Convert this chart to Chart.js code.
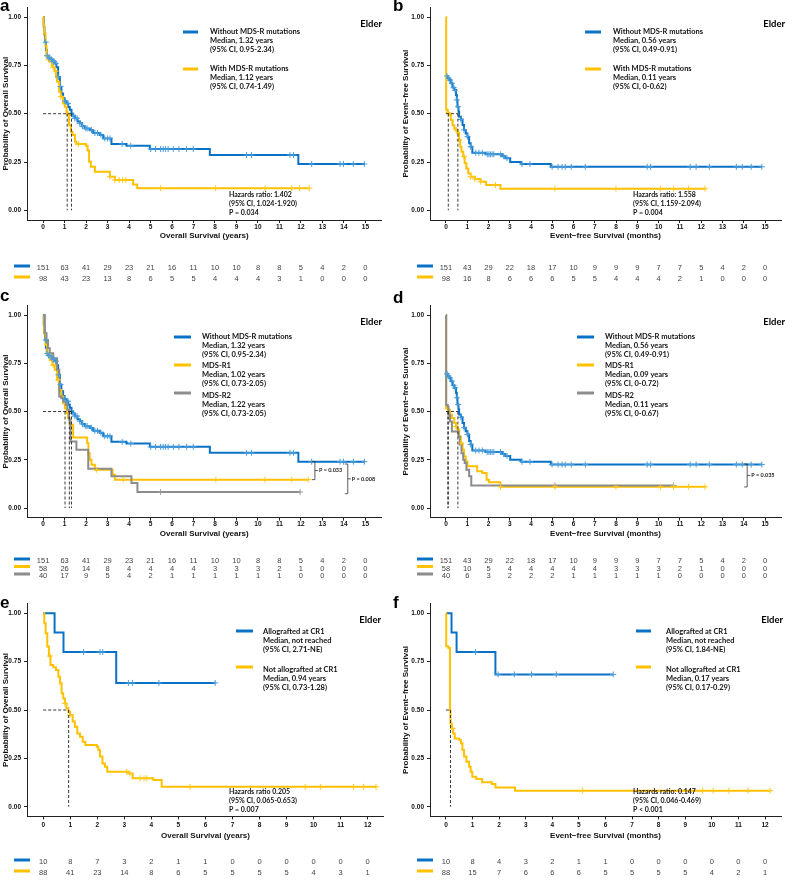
<!DOCTYPE html>
<html><head><meta charset="utf-8">
<script src="https://cdn.jsdelivr.net/npm/chart.js@4/dist/chart.umd.min.js"></script>
<style>
html,body{margin:0;padding:0;background:#fff;}
body{width:786px;height:881px;position:relative;overflow:hidden;}
canvas{position:absolute;}
</style></head><body>
<canvas id="ca" width="393" height="290" style="left:0;top:0"></canvas>
<canvas id="cb" width="393" height="290" style="left:393px;top:0"></canvas>
<canvas id="cc" width="393" height="290" style="left:0;top:290px"></canvas>
<canvas id="cd" width="393" height="290" style="left:393px;top:290px"></canvas>
<canvas id="ce" width="393" height="301" style="left:0;top:580px"></canvas>
<canvas id="cf" width="393" height="301" style="left:393px;top:580px"></canvas>
<script>
// ---------- tick labels ----------
const xTicks15 = [0,1,2,3,4,5,6,7,8,9,10,11,12,13,14,15];
const xTicks12 = [0,1,2,3,4,5,6,7,8,9,10,11,12];
const yTicks = [0, 0.25, 0.5, 0.75, 1];

// ---------- OS, without MDS-R (panels a, c) ----------
const osWithoutT = [0,0.03,0.06,0.09,0.13,0.17,0.25,0.35,0.45,0.55,0.62,0.70,0.78,0.85,0.93,1.0,1.09,1.17,1.24,1.32,1.4,1.48,1.6,1.71,1.82,1.94,2.17,2.33,2.64,2.8,3.18,3.88,4.97,7.76,11.88,14.98];
const osWithoutS = [1.0,0.95,0.91,0.87,0.83,0.80,0.79,0.78,0.77,0.76,0.74,0.69,0.64,0.605,0.58,0.565,0.553,0.535,0.52,0.50,0.49,0.476,0.46,0.45,0.435,0.424,0.415,0.40,0.39,0.372,0.343,0.334,0.317,0.286,0.24,0.24];
const osWithoutC = [0.12,0.19,0.26,0.31,0.39,0.47,0.51,0.59,0.71,0.81,1.01,1.16,1.40,1.48,1.58,1.71,1.83,1.99,2.05,2.25,2.41,2.53,2.69,2.87,3.0,3.11,3.68,4.08,5.01,5.23,5.47,5.59,5.70,5.82,6.06,6.32,6.68,6.99,9.47,9.70,11.49,11.65,12.50,13.82,13.98,14.44,14.95];
// ---------- OS, with MDS-R (panel a) ----------
const osWithT = [0,0.02,0.05,0.11,0.16,0.23,0.31,0.4,0.47,0.54,0.6,0.65,0.75,0.82,0.93,1.01,1.09,1.13,1.21,1.29,1.37,1.48,1.55,1.99,2.07,2.14,2.22,2.41,3.11,3.34,4.19,4.38,12.39];
const osWithS = [1.0,0.96,0.915,0.85,0.80,0.78,0.77,0.75,0.74,0.72,0.69,0.665,0.614,0.588,0.553,0.536,0.51,0.493,0.44,0.407,0.39,0.355,0.343,0.334,0.31,0.252,0.226,0.2,0.174,0.157,0.134,0.114,0.114];
const osWithC = [0.19,0.26,0.47,0.59,0.82,1.2,1.65,3.11,3.34,3.54,3.70,3.85,5.47,8.03,10.33,11.57,11.93,12.39];
// ---------- EFS, without MDS-R (panels b, d) ----------
const efsWithoutT = [0,0.08,0.16,0.23,0.31,0.39,0.47,0.51,0.54,0.59,0.62,0.70,0.78,0.85,0.93,1.01,1.09,1.16,1.24,1.86,2.64,2.79,3.02,3.54,4.93,14.85];
const efsWithoutS = [0.695,0.683,0.674,0.657,0.636,0.622,0.597,0.571,0.536,0.51,0.484,0.47,0.441,0.416,0.398,0.381,0.347,0.329,0.298,0.29,0.28,0.27,0.25,0.24,0.225,0.225];
const efsWithoutC = [0.05,0.12,0.19,0.28,0.36,0.43,0.51,0.57,0.7,0.85,1.01,1.16,1.40,1.55,1.71,1.94,2.02,2.09,2.17,2.25,2.56,2.71,2.87,3.57,3.95,4.99,5.27,5.46,5.61,5.89,6.55,9.46,9.62,11.48,11.76,12.38,13.65,13.93,14.35,14.85];
// ---------- EFS, with MDS-R (panel b) ----------
const efsWithT = [0,0.01,0.08,0.16,0.23,0.31,0.39,0.47,0.54,0.62,0.67,0.73,0.81,0.88,0.96,1.05,1.16,1.36,1.63,1.89,2.56,12.18];
const efsWithS = [1.0,0.52,0.505,0.493,0.467,0.44,0.424,0.416,0.40,0.364,0.329,0.303,0.278,0.243,0.217,0.19,0.174,0.162,0.148,0.131,0.112,0.112];
const efsWithC = [0.12,0.47,0.62,0.85,1.16,1.36,1.63,2.33,5.12,7.99,10.08,10.70,11.4,12.18];
// ---------- OS MDS-R1 / MDS-R2 (panel c) ----------
const osR1T = [0,0.05,0.11,0.19,0.31,0.43,0.54,0.65,0.75,0.85,0.93,1.02,1.09,1.16,1.24,1.40,2.05,2.11,2.17,2.25,2.41,3.23,3.34,12.34];
const osR1S = [1.0,0.905,0.845,0.80,0.767,0.741,0.716,0.664,0.612,0.578,0.543,0.517,0.491,0.466,0.431,0.365,0.336,0.284,0.25,0.224,0.198,0.172,0.147,0.147];
const osR1C = [0.23,0.47,0.70,2.48,3.73,8.04,10.33,11.57,12.34];
const osR2T = [0,0.05,0.08,0.16,0.23,0.31,0.47,0.65,0.75,0.85,0.93,1.06,1.13,1.21,1.27,1.55,2.10,3.18,4.11,4.39,11.96];
const osR2S = [1.0,1.0,0.905,0.871,0.828,0.802,0.776,0.716,0.578,0.569,0.552,0.534,0.509,0.457,0.345,0.302,0.203,0.164,0.129,0.083,0.083];
const osR2C = [5.47,11.96];
// ---------- EFS MDS-R1 / MDS-R2 (panel d) ----------
const efsR1T = [0,0.01,0.08,0.19,0.28,0.39,0.47,0.54,0.62,0.70,0.78,0.85,0.93,1.01,1.47,1.71,1.91,2.02,2.56,12.18];
const efsR1S = [1.0,0.517,0.509,0.483,0.466,0.44,0.422,0.405,0.371,0.336,0.302,0.267,0.241,0.216,0.19,0.181,0.147,0.133,0.11,0.11];
const efsR1C = [0.47,0.70,2.56,5.12,7.99,10.08,10.7,11.4,12.18];
const efsR2T = [0,0.01,0.08,0.12,0.19,0.28,0.59,0.65,0.73,0.81,0.88,0.96,1.09,1.19,10.7];
const efsR2S = [1.0,0.534,0.526,0.483,0.448,0.397,0.371,0.328,0.284,0.25,0.233,0.198,0.164,0.117,0.117];
const efsR2C = [5.12,10.7];
// ---------- allografted (panels e, f) ----------
const osAlloT = [0,0.42,0.75,2.7,6.36];
const osAlloS = [1.0,0.9,0.8,0.64,0.64];
const osAlloC = [1.49,2.10,2.20,3.15,3.30,4.28,6.36];
const osNoAlloT = [0,0.04,0.09,0.15,0.21,0.27,0.37,0.47,0.56,0.62,0.68,0.74,0.80,0.86,0.93,0.99,1.09,1.17,1.26,1.36,1.46,1.56,1.98,2.04,2.10,2.19,2.28,2.37,3.15,3.31,4.07,4.38,12.31];
const osNoAlloS = [1.0,0.948,0.897,0.828,0.779,0.733,0.721,0.707,0.672,0.638,0.586,0.56,0.534,0.509,0.491,0.474,0.44,0.414,0.379,0.362,0.336,0.319,0.31,0.293,0.259,0.224,0.207,0.181,0.172,0.147,0.138,0.103,0.103];
const osNoAlloC = [0.25,0.80,0.99,3.09,3.21,3.58,3.73,3.83,5.43,9.69,10.25,11.48,11.85,12.31];
const efsAlloT = [0,0.21,0.40,1.86,6.29];
const efsAlloS = [1.0,0.9,0.8,0.684,0.684];
const efsAlloC = [1.11,1.96,2.57,3.22,4.15,6.29];
const efsNoAlloT = [0,0.01,0.09,0.15,0.17,0.22,0.27,0.33,0.5,0.56,0.62,0.68,0.77,0.87,0.93,0.99,1.14,1.36,1.73,1.86,2.6,12.19];
const efsNoAlloS = [1.0,0.83,0.82,0.50,0.43,0.405,0.379,0.353,0.345,0.328,0.293,0.259,0.233,0.207,0.181,0.155,0.143,0.126,0.117,0.10,0.083,0.083];
const efsNoAlloC = [0.25,5.14,9.65,10.05,10.64,11.36,12.19];

// ---------- medians ----------
const medA = [1.32, 1.12];
const medB = [0.56, 0.11];
const medC = [1.32, 1.02, 1.22];
const medD = [0.56, 0.09, 0.11];
const medE = [0.94];
const medF = [0.17];

// ---------- numbers at risk ----------
const riskOsWithout = [151,63,41,29,23,21,16,11,10,10,8,8,5,4,2,0];
const riskOsWith = [98,43,23,13,8,6,5,5,4,4,4,3,1,0,0,0];
const riskEfsWithout = [151,43,29,22,18,17,10,9,9,9,7,7,5,4,2,0];
const riskEfsWith = [98,16,8,6,6,6,5,5,4,4,4,2,1,0,0,0];
const riskOsR1 = [58,26,14,8,4,4,4,4,3,3,3,2,1,0,0,0];
const riskOsR2 = [40,17,9,5,4,2,1,1,1,1,1,1,0,0,0,0];
const riskEfsR1 = [58,10,5,4,4,4,4,4,3,3,3,2,1,0,0,0];
const riskEfsR2 = [40,6,3,2,2,2,1,1,1,1,1,0,0,0,0,0];
const riskOsAllo = [10,8,7,3,2,1,1,0,0,0,0,0,0];
const riskOsNoAllo = [88,41,23,14,8,6,5,5,5,5,4,3,1];
const riskEfsAllo = [10,8,4,3,2,1,1,0,0,0,0,0,0];
const riskEfsNoAllo = [88,15,7,6,6,6,5,5,5,5,4,2,1];

// ---------- texts ----------
const legA = [["Without MDS-R mutations","Median, 1.32 years","(95% CI, 0.95-2.34)"],["With MDS-R mutations","Median, 1.12 years","(95% CI, 0.74-1.49)"]];
const legB = [["Without MDS-R mutations","Median, 0.56 years","(95% CI, 0.49-0.91)"],["With MDS-R mutations","Median, 0.11 years","(95% CI, 0-0.62)"]];
const legC = [["Without MDS-R mutations","Median, 1.32 years","(95% CI, 0.95-2.34)"],["MDS-R1","Median, 1.02 years","(95% CI, 0.73-2.05)"],["MDS-R2","Median, 1.22 years","(95% CI, 0.73-2.05)"]];
const legD = [["Without MDS-R mutations","Median, 0.56 years","(95% CI, 0.49-0.91)"],["MDS-R1","Median, 0.09 years","(95% CI, 0-0.72)"],["MDS-R2","Median, 0.11 years","(95% CI, 0-0.67)"]];
const legE = [["Allografted at CR1","Median, not reached","(95% CI, 2.71-NE)"],["Not allografted at CR1","Median, 0.94 years","(95% CI, 0.73-1.28)"]];
const legF = [["Allografted at CR1","Median, not reached","(95% CI, 1.84-NE)"],["Not allografted at CR1","Median, 0.17 years","(95% CI, 0.17-0.29)"]];
const hrA = ["Hazards ratio: 1.402","(95% CI, 1.024-1.920)","P = 0.034"];
const hrB = ["Hazards ratio: 1.558","(95% CI, 1.159-2.094)","P = 0.004"];
const hrE = ["Hazards ratio 0.205","(95% CI, 0.065-0.653)","P = 0.007"];
const hrF = ["Hazards ratio: 0.147","(95% CI, 0.046-0.469)","P < 0.001"];
const osX = "Overall Survival (years)", efsX = "Event\u2212free Survival (months)";
const osY = "Probability of Overall Survival", efsY = "Probability of Event\u2212free Survival";

// ---------- styling ----------
const BLUE = '#0A72C6', YEL = '#FFC000', GRAY = '#8C8C8C';
const BLUE_C = '#4A9EDD', YEL_C = '#FFC81E', GRAY_C = '#9A9A9A';
const TICKF = {family:'"Liberation Sans", Arial, sans-serif', size:6.5, weight:'bold'};
const AXF = {family:'"Liberation Sans", Arial, sans-serif', size:8, weight:'bold'};
const LEGFONT = 'bold 7.5px Lato, "Open Sans", sans-serif';

function kmPoints(T,S){ return T.map((t,i)=>({x:t,y:S[i]})); }
function stepAt(T,S,t){ let v=S[0]; for(let i=0;i<T.length;i++){ if(T[i]<=t) v=S[i]; else break; } return v; }
function censorPoints(T,S,C){ return C.map(t=>({x:t,y:stepAt(T,S,t)})); }

function drawDecor(chart, g){
  const ctx = chart.ctx, xs = chart.scales.x, ys = chart.scales.y;
  ctx.save();
  ctx.fillStyle = '#000'; ctx.textAlign='left'; ctx.textBaseline='alphabetic';
  ctx.font = 'bold 17px "Liberation Sans", Arial, sans-serif';
  ctx.fillText(g.letter, 0, g.letterY);
  ctx.font = 'bold 9.5px Lato, sans-serif'; ctx.textAlign='right'; ctx.textBaseline='middle';
  ctx.fillText('Elder', g.elderX, g.elderY);
  ctx.textAlign='left';
  g.legend.forEach((lines, k)=>{
    const it = g.legPos[k];
    ctx.strokeStyle = g.curves[k].color; ctx.lineWidth = 3;
    ctx.beginPath(); ctx.moveTo(g.swX0, it.sw); ctx.lineTo(g.swX1, it.sw); ctx.stroke();
    ctx.fillStyle = '#111'; ctx.font = LEGFONT;
    lines.forEach((s,j)=>ctx.fillText(s, g.legTX, it.ty[j]));
  });
  if (g.hr) {
    ctx.font = 'bold 7px Lato, sans-serif'; ctx.fillStyle = '#111';
    g.hr.forEach((s,j)=>ctx.fillText(s, g.hrX, g.hrY[j]));
  }
  (g.brackets||[]).forEach(b=>{
    const x = xs.getPixelForValue(b.t), y1 = ys.getPixelForValue(b.y1), y2 = ys.getPixelForValue(b.y2), ym=(y1+y2)/2;
    ctx.strokeStyle = '#333'; ctx.lineWidth = 0.8;
    ctx.beginPath(); ctx.moveTo(x-3,y1); ctx.lineTo(x,y1); ctx.lineTo(x,y2); ctx.lineTo(x-3,y2);
    ctx.moveTo(x,ym); ctx.lineTo(x+3,ym); ctx.stroke();
    ctx.font = 'bold 5.5px Lato, sans-serif'; ctx.fillStyle='#222'; ctx.textAlign='left';
    ctx.fillText(b.text, x+4, ym);
  });
  ctx.font = '7.5px "Liberation Sans", Arial, sans-serif'; ctx.textAlign='center';
  g.risk.forEach((row,r)=>{
    const y = g.riskY[r];
    ctx.fillStyle = g.curves[r].color;
    ctx.fillRect(g.rsX0, y-3.5, g.rsX1-g.rsX0, 3);
    ctx.fillStyle = '#444';
    row.forEach((v,i)=>ctx.fillText(String(v), xs.getPixelForValue(g.xTicks[i]), y));
  });
  ctx.restore();
}

function build(id, g){
  const cv = document.getElementById(id);
  const W = cv.width, H = cv.height;
  const ds = [];
  const dash = {borderColor:'#222', borderWidth:0.9, borderDash:[3,2], pointRadius:0, fill:false, tension:0};
  ds.push(Object.assign({}, dash, {data:[{x:0,y:0.5},{x:Math.max(...g.medians),y:0.5}]}));
  g.medians.forEach(m=>ds.push(Object.assign({}, dash, {data:[{x:m,y:0.5},{x:m,y:0}]})));
  g.curves.forEach(c=>ds.push({data:censorPoints(c.T,c.S,c.C), showLine:false, pointStyle:'cross', pointRadius:3, pointBorderWidth:1, pointBorderColor:c.cens, pointBackgroundColor:c.cens}));
  g.curves.slice().reverse().forEach(c=>ds.push({data:kmPoints(c.T,c.S), stepped:'before', borderColor:c.color, borderWidth:2, pointRadius:0, fill:false}));
  const gridOpt = {drawOnChartArea:false, drawTicks:true, tickLength:3, color:'#222', lineWidth:1};
  const borderOpt = {display:true, color:'#222', width:1};
  new Chart(cv, {
    type:'line',
    data:{datasets:ds},
    options:{
      responsive:false, animation:false, events:[],
      layout:{padding:{left:0, top:g.top, right:W-g.right, bottom:H-g.axisBottom-g.xH}},
      plugins:{legend:{display:false}, tooltip:{enabled:false}},
      scales:{
        x:{type:'linear', min:-0.05*g.xMax, max:1.05*g.xMax,
           afterBuildTicks:s=>{ s.ticks = g.xTicks.map(v=>({value:v})); },
           afterFit:s=>{ s.height = g.xH; },
           ticks:{font:TICKF, color:'#111', padding:g.tickPad, maxRotation:0, autoSkip:false, callback:v=>String(v)},
           grid:gridOpt, border:borderOpt,
           title:{display:true, text:g.xTitle, font:AXF, color:'#111', padding:{top:0,bottom:0}}},
        y:{type:'linear', min:-0.05, max:1.05,
           afterBuildTicks:s=>{ s.ticks = yTicks.map(v=>({value:v})); },
           afterFit:s=>{ s.width = g.yW; },
           ticks:{font:TICKF, color:'#111', padding:3, callback:v=>Number(v).toFixed(2)},
           grid:gridOpt, border:borderOpt,
           title:{display:true, text:g.yTitle, font:AXF, color:'#111', padding:{top:g.yTitlePad,bottom:0}}}
      }
    },
    plugins:[{id:'decor', afterDraw:c=>drawDecor(c,g)}]
  });
}

const L = {yW:27, yTitlePad:0.5, right:381.5, swX0:183, swX1:198, legTX:210, elderX:382, hrX:229, rsX0:14, rsX1:30};
const R = {yW:37, yTitlePad:8, right:392, swX0:192, swX1:208, legTX:220, elderX:392, hrX:240, rsX0:24, rsX1:40};
const row1 = {top:7.4, axisBottom:220, xH:21, tickPad:0, xMax:15, xTicks:xTicks15, elderY:24, letterY:11,
  legPos:[{sw:32,ty:[32,41,50]},{sw:69,ty:[69,78,87]}], hrY:[195,204,213], riskY:[268,279]};
const row2 = {top:15.35, axisBottom:227.65, xH:20.5, tickPad:0, xMax:15, xTicks:xTicks15, elderY:32, letterY:11,
  legPos:[{sw:47,ty:[47,56,65]},{sw:75,ty:[76,85,94]},{sw:103,ty:[106,115,124]}], riskY:[271,278.5,286]};
const row3 = {top:23.6, axisBottom:236.4, xH:24.5, tickPad:1.5, xMax:12, xTicks:xTicks12, elderY:40, letterY:28,
  legPos:[{sw:51,ty:[52,61,70]},{sw:87,ty:[90,99,108]}], hrY:[212,221,230], riskY:[282,293]};

build('ca', Object.assign({}, L, row1, {letter:'a', xTitle:osX, yTitle:osY, medians:medA, legend:legA, hr:hrA,
  curves:[{T:osWithoutT,S:osWithoutS,C:osWithoutC,color:BLUE,cens:BLUE_C},{T:osWithT,S:osWithS,C:osWithC,color:YEL,cens:YEL_C}],
  risk:[riskOsWithout, riskOsWith]}));
build('cb', Object.assign({}, R, row1, {letter:'b', xTitle:efsX, yTitle:efsY, medians:medB, legend:legB, hr:hrB,
  curves:[{T:efsWithoutT,S:efsWithoutS,C:efsWithoutC,color:BLUE,cens:BLUE_C},{T:efsWithT,S:efsWithS,C:efsWithC,color:YEL,cens:YEL_C}],
  risk:[riskEfsWithout, riskEfsWith]}));
build('cc', Object.assign({}, L, row2, {letter:'c', xTitle:osX, yTitle:osY, medians:medC, legend:legC, swX0:174, swX1:191, legTX:202,
  curves:[{T:osWithoutT,S:osWithoutS,C:osWithoutC,color:BLUE,cens:BLUE_C},{T:osR1T,S:osR1S,C:osR1C,color:YEL,cens:YEL_C},{T:osR2T,S:osR2S,C:osR2C,color:GRAY,cens:GRAY_C}],
  risk:[riskOsWithout, riskOsR1, riskOsR2],
  brackets:[{t:12.65,y1:0.241,y2:0.147,text:'P = 0.033'},{t:14.18,y1:0.228,y2:0.074,text:'P = 0.008'}]}));
build('cd', Object.assign({}, R, row2, {letter:'d', letterY:13, xTitle:efsX, yTitle:efsY, medians:medD, legend:legD, swX0:184, swX1:201, legTX:212,
  curves:[{T:efsWithoutT,S:efsWithoutS,C:efsWithoutC,color:BLUE,cens:BLUE_C},{T:efsR1T,S:efsR1S,C:efsR1C,color:YEL,cens:YEL_C},{T:efsR2T,S:efsR2S,C:efsR2C,color:GRAY,cens:GRAY_C}],
  risk:[riskEfsWithout, riskEfsR1, riskEfsR2],
  brackets:[{t:14.16,y1:0.228,y2:0.109,text:'P = 0.035'}]}));
build('ce', Object.assign({}, L, row3, {letter:'e', right:383.9, xTitle:osX, yTitle:osY, medians:medE, legend:legE, hr:hrE, swX0:236, swX1:253, legTX:263, elderX:381,
  curves:[{T:osAlloT,S:osAlloS,C:osAlloC,color:BLUE,cens:BLUE_C},{T:osNoAlloT,S:osNoAlloS,C:osNoAlloC,color:YEL,cens:YEL_C}],
  risk:[riskOsAllo, riskOsNoAllo]}));
build('cf', Object.assign({}, R, row3, {letter:'f', right:392.9, xTitle:efsX, yTitle:efsY, medians:medF, legend:legF, hr:hrF, swX0:243, swX1:258, legTX:273, elderX:390,
  curves:[{T:efsAlloT,S:efsAlloS,C:efsAlloC,color:BLUE,cens:BLUE_C},{T:efsNoAlloT,S:efsNoAlloS,C:efsNoAlloC,color:YEL,cens:YEL_C}],
  risk:[riskEfsAllo, riskEfsNoAllo]}));
</script>
</body></html>
